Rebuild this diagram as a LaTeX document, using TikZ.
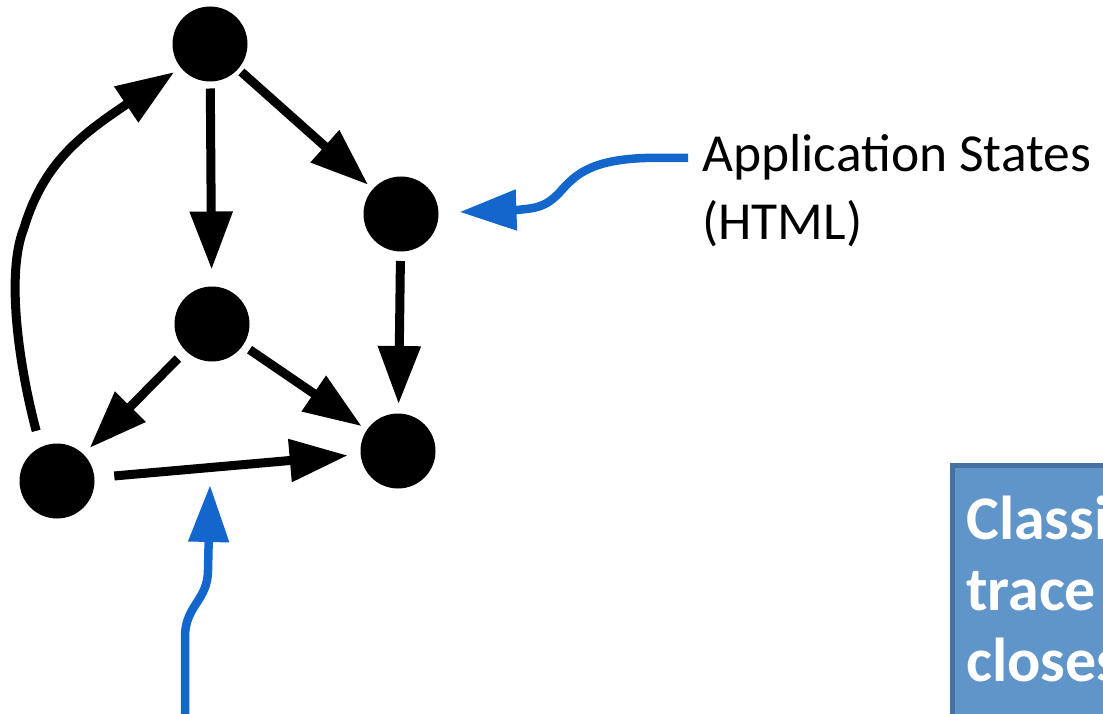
\documentclass[tikz,border=0pt]{standalone}
\usepackage{fontspec}
\setmainfont{Carlito}
\usetikzlibrary{arrows.meta}
\definecolor{arrowblue}{RGB}{18,102,204}
\definecolor{boxfill}{RGB}{96,149,201}
\definecolor{boxedge}{RGB}{68,114,163}
\begin{document}
\begin{tikzpicture}[x=1pt,y=-1pt,
  state/.style={circle, fill=black, minimum size=75pt, inner sep=0pt, outer sep=0pt},
  conn/.style={draw=black, line width=9pt, -{Triangle[length=58pt,width=41pt]}},
  bconn/.style={draw=arrowblue, color=arrowblue, line width=8.5pt, -{Triangle[length=57pt,width=39pt]}},
  lab/.style={anchor=base west, inner sep=0pt, font=\fontsize{53.5pt}{68pt}\selectfont},
  boxtext/.style={anchor=base west, inner sep=0pt, text=white, font=\fontsize{62pt}{71pt}\selectfont\bfseries},
  notebox/.style={draw=boxedge, fill=boxfill, line width=5pt, anchor=north west, minimum width=220pt, minimum height=300pt, inner sep=0pt}
]
\useasboundingbox (0,0) rectangle (1103,714);
\clip (0,0) rectangle (1103,714);

% states
\node[state] (top)   at (210,44)  {};
\node[state] (right) at (401,214) {};
\node[state] (mid)   at (212,324) {};
\node[state] (br)    at (398,451) {};
\node[state] (bl)    at (57,481)  {};

% transitions
\draw[conn, shorten <=7pt, shorten >=17pt] (top) -- (mid);
\draw[conn, shorten <=4.5pt, shorten >=6.5pt] (top) -- (right);
\draw[conn, shorten <=9.5pt, shorten >=9.5pt] (right) -- (br);
\draw[conn, shorten <=11pt, shorten >=9pt] (mid) -- (bl);
\draw[conn, shorten <=8pt, shorten >=6.5pt] (mid) -- (br);
\draw[conn, shorten <=20pt, shorten >=13pt] (bl) -- (br);
\draw[conn, shorten <=17pt, shorten >=8pt] (bl.116) .. controls (20,370) and (5,275) .. (24,228)
   .. controls (44,161) and (84,133) .. (top.219);

% label and annotation arrows
\node[lab] (lab1) at (702,172) {Application States};
\node[lab] (lab2) at (702,240) {(HTML)};
\coordinate (ltail) at (688,158);
\draw[bconn, shorten >=21pt] (ltail) -- (645,158) .. controls (590,160) and (575,175) .. (560,192)
   .. controls (545,208) and (535,208) .. (517,210) -- (right);

\coordinate (btail) at (185,716);
\coordinate (btip) at (210,485);
\draw[bconn] (btail) -- (185,635) .. controls (186,605) and (208,600) .. (208,570) -- (btip);

% note box
\node[notebox] (note) at (949.5,462.5) {};
\node[boxtext] (t1) at (966,539) {Classi};
\node[boxtext] (t2) at (966,610) {trace};
\node[boxtext] (t3) at (966,681) {closes};
\end{tikzpicture}
\end{document}
